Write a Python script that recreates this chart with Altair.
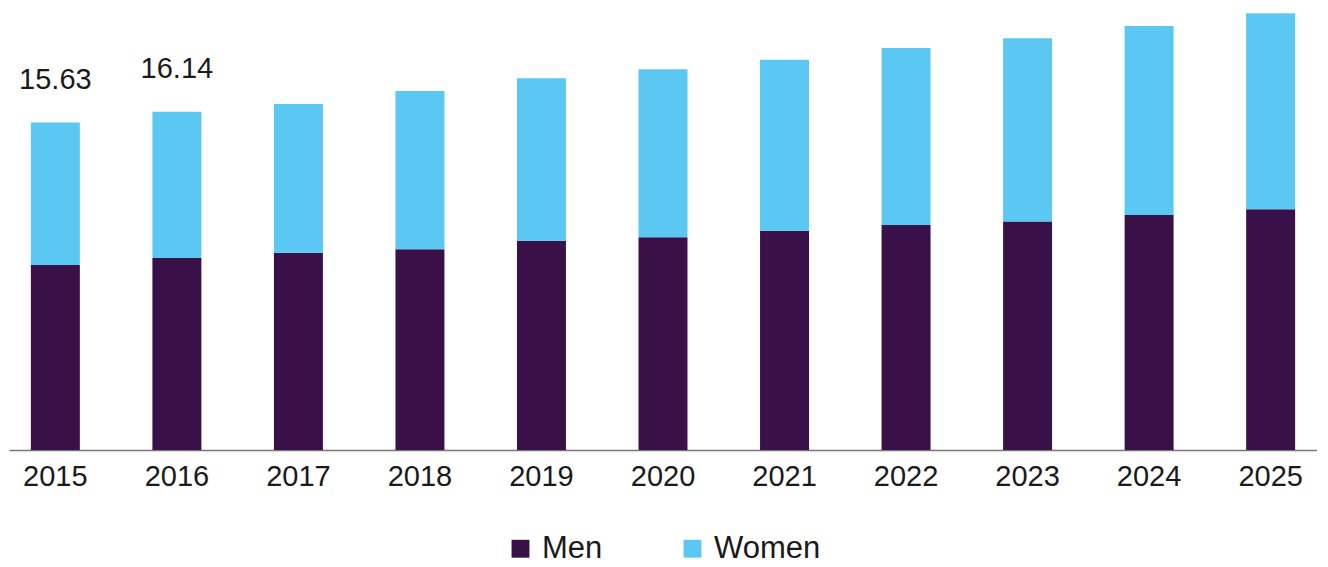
import altair as alt
import pandas as pd

years = ["2015", "2016", "2017", "2018", "2019", "2020", "2021", "2022", "2023", "2024", "2025"]
men = [8.83, 9.16, 9.42, 9.58, 9.99, 10.15, 10.47, 10.74, 10.90, 11.22, 11.49]
total = [15.63, 16.14, 16.51, 17.14, 17.74, 18.17, 18.62, 19.19, 19.65, 20.24, 20.84]
women = [round(t - m, 2) for t, m in zip(total, men)]
label_years = ["2015", "2016"]
label_text = ["15.63", "16.14"]

rows = []
for y, m, w in zip(years, men, women):
    rows.append({"year": y, "segment": "Men", "value": m, "order": 0})
    rows.append({"year": y, "segment": "Women", "value": w, "order": 1})
df = pd.DataFrame(rows)

lab = pd.DataFrame({"year": label_years, "label": label_text,
                    "total": [total[years.index(y)] for y in label_years]})

FONT = "Liberation Sans"

x_enc = alt.X("year:N", sort=years,
              scale=alt.Scale(paddingInner=0.597, paddingOuter=0.18),
              axis=alt.Axis(title=None, labelAngle=0, labelFont=FONT, labelFontSize=29,
                            labelColor="#1a1a1a", labelPadding=12, ticks=False,
                            domainColor="#777777", domainWidth=1.5, grid=False))
y_scale = alt.Scale(domain=[0, 21], nice=False)

bars = alt.Chart(df).mark_bar().encode(
    x=x_enc,
    y=alt.Y("value:Q", stack="zero", scale=y_scale, axis=None),
    color=alt.Color("segment:N",
                    scale=alt.Scale(domain=["Men", "Women"], range=["#3a1048", "#5bc8f4"]),
                    legend=alt.Legend(title=None, orient="none", direction="horizontal",
                                      legendX=496, legendY=523,
                                      labelFont=FONT, labelFontSize=31, labelColor="#1a1a1a",
                                      symbolType="square", symbolSize=320, symbolStrokeWidth=0,
                                      columnPadding=74, labelOffset=6)),
    order=alt.Order("order:Q"),
)

labels = alt.Chart(lab).mark_text(baseline="bottom", dy=-28, font=FONT, fontSize=29,
                                  color="#1a1a1a").encode(
    x=alt.X("year:N", sort=years),
    y=alt.Y("total:Q", scale=y_scale),
    text="label:N",
)

chart = alt.layer(bars, labels).properties(
    width=1308, height=440,
    background="white",
    padding={"left": 1, "top": 2, "right": 0, "bottom": 0},
).configure_view(stroke=None, strokeWidth=0)

chart.save("out.html", embed_options={"renderer": "svg", "actions": False})
